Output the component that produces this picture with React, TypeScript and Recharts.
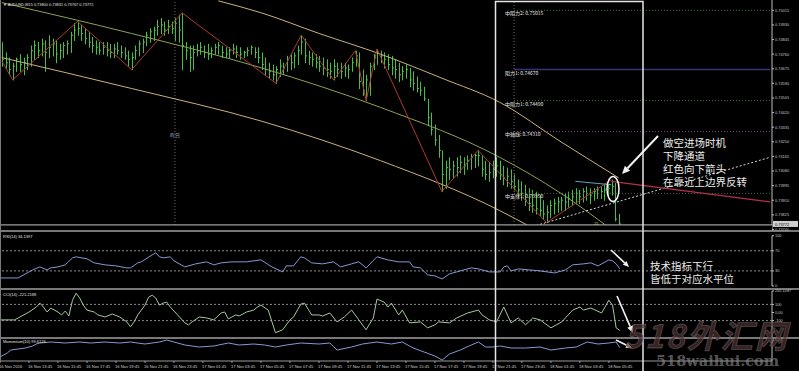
import React from 'react';
import { ComposedChart, Bar, Line, XAxis, YAxis, ReferenceLine } from 'recharts';

// AUDUSD M15 bars, 16 Nov 11:45 .. 18 Nov 06:30
const highs = [
  0.7483, 0.7477, 0.7474, 0.7471, 0.7474, 0.7476, 0.7474, 0.7476, 0.7481, 0.7484,
  0.7483, 0.7485, 0.7484, 0.7487, 0.7485, 0.7484, 0.7482, 0.7483, 0.7484, 0.7489,
  0.7494, 0.7495, 0.7493, 0.7491, 0.7489, 0.7486, 0.7484, 0.7483, 0.7483, 0.7483,
  0.7482, 0.7482, 0.7483, 0.7481, 0.7480, 0.7478, 0.7477, 0.7481, 0.7484, 0.7485,
  0.7489, 0.7491, 0.7492, 0.7496, 0.7497, 0.7495, 0.7496, 0.7495, 0.7497, 0.7499,
  0.7500, 0.7483, 0.7481, 0.7481, 0.7482, 0.7483, 0.7481, 0.7482, 0.7480, 0.7482,
  0.7483, 0.7481, 0.7480, 0.7480, 0.7482, 0.7481, 0.7480, 0.7478, 0.7480, 0.7481,
  0.7480, 0.7480, 0.7477, 0.7474, 0.7471, 0.7470, 0.7469, 0.7473, 0.7471, 0.7475,
  0.7476, 0.7477, 0.7481, 0.7487, 0.7485, 0.7478, 0.7477, 0.7476, 0.7475, 0.7474,
  0.7473, 0.7471, 0.7473, 0.7471, 0.7471, 0.7471, 0.7470, 0.7474, 0.7478, 0.7477,
  0.7467, 0.7464, 0.7471, 0.7476, 0.7479, 0.7478, 0.7477, 0.7476, 0.7475, 0.7473,
  0.7471, 0.7469, 0.7470, 0.7468, 0.7466, 0.7463, 0.7460, 0.7457, 0.7450, 0.7442,
  0.7435, 0.7429, 0.7420, 0.7414, 0.7416, 0.7414, 0.7416, 0.7417, 0.7416, 0.7417,
  0.7418, 0.7418, 0.7420, 0.7417, 0.7414, 0.7413, 0.7414, 0.7416, 0.7414, 0.7411,
  0.7410, 0.7409, 0.7406, 0.7403, 0.7402, 0.7400, 0.7398, 0.7397, 0.7396, 0.7394,
  0.7391, 0.7388, 0.7391, 0.7392, 0.7393, 0.7393, 0.7395, 0.7396, 0.7397, 0.7398,
  0.7397, 0.7398, 0.7399, 0.7398, 0.7398, 0.7399, 0.7399, 0.7400, 0.7400, 0.7403,
  0.7401, 0.73831,
];
const lows = [
  0.7469, 0.7468, 0.7464, 0.7461, 0.7466, 0.7466, 0.7464, 0.7467, 0.7469, 0.7473,
  0.7474, 0.7475, 0.7466, 0.7474, 0.7475, 0.7471, 0.7473, 0.7474, 0.7476, 0.7477,
  0.7484, 0.7487, 0.7484, 0.7482, 0.7480, 0.7477, 0.7476, 0.7476, 0.7476, 0.7475,
  0.7474, 0.7474, 0.7476, 0.7474, 0.7473, 0.7469, 0.7467, 0.7473, 0.7475, 0.7477,
  0.7481, 0.7483, 0.7484, 0.7487, 0.7488, 0.7487, 0.7488, 0.7488, 0.7484, 0.7483,
  0.7467, 0.7473, 0.7466, 0.7467, 0.7475, 0.7476, 0.7474, 0.7473, 0.7474, 0.7476,
  0.7476, 0.7474, 0.7474, 0.7474, 0.7476, 0.7474, 0.7473, 0.7474, 0.7475, 0.7476,
  0.7474, 0.7471, 0.7467, 0.7464, 0.7462, 0.7461, 0.7459, 0.7463, 0.7464, 0.7466,
  0.7467, 0.7468, 0.7470, 0.7476, 0.7471, 0.7470, 0.7469, 0.7468, 0.7466, 0.7464,
  0.7463, 0.7462, 0.7461, 0.7463, 0.7462, 0.7463, 0.7462, 0.7466, 0.7469, 0.7456,
  0.7452, 0.7449, 0.7452, 0.7467, 0.7470, 0.7471, 0.7468, 0.7467, 0.7464, 0.7462,
  0.7460, 0.7461, 0.7462, 0.7457, 0.7455, 0.7454, 0.7452, 0.7449, 0.7435, 0.7429,
  0.7423, 0.7416, 0.7396, 0.7398, 0.7403, 0.7404, 0.7405, 0.7407, 0.7406, 0.7409,
  0.7409, 0.7410, 0.7411, 0.7405, 0.7403, 0.7402, 0.7404, 0.7405, 0.7403, 0.7400,
  0.7399, 0.7398, 0.7397, 0.7393, 0.7391, 0.7388, 0.7385, 0.7384, 0.7383, 0.7382,
  0.7380, 0.7378, 0.7381, 0.7383, 0.7384, 0.7385, 0.7385, 0.7387, 0.7388, 0.7389,
  0.7389, 0.7390, 0.7391, 0.7389, 0.7391, 0.7392, 0.7392, 0.7391, 0.7393, 0.7394,
  0.7379, 0.73767,
];
const closes = [
  0.7473, 0.7471, 0.7467, 0.7469, 0.7473, 0.7470, 0.7471, 0.7474, 0.7478, 0.7481,
  0.7478, 0.7482, 0.7477, 0.7480, 0.7482, 0.7476, 0.7478, 0.7481, 0.7482, 0.7487,
  0.7490, 0.7491, 0.7488, 0.7485, 0.7483, 0.7481, 0.7480, 0.7478, 0.7480, 0.7478,
  0.7477, 0.7479, 0.7478, 0.7477, 0.7475, 0.7473, 0.7474, 0.7478, 0.7482, 0.7483,
  0.7487, 0.7489, 0.7490, 0.7492, 0.7493, 0.7490, 0.7492, 0.7491, 0.7494, 0.7490,
  0.7481, 0.7478, 0.7474, 0.7477, 0.7478, 0.7480, 0.7477, 0.7476, 0.7478, 0.7480,
  0.7481, 0.7477, 0.7476, 0.7478, 0.7479, 0.7477, 0.7476, 0.7477, 0.7478, 0.7480,
  0.7477, 0.7474, 0.7470, 0.7467, 0.7466, 0.7464, 0.7467, 0.7469, 0.7468, 0.7473,
  0.7471, 0.7475, 0.7478, 0.7483, 0.7475, 0.7474, 0.7473, 0.7471, 0.7469, 0.7468,
  0.7467, 0.7466, 0.7469, 0.7467, 0.7466, 0.7468, 0.7467, 0.7471, 0.7475, 0.7460,
  0.7455, 0.7461, 0.7469, 0.7474, 0.7477, 0.7475, 0.7473, 0.7470, 0.7468, 0.7467,
  0.7464, 0.7466, 0.7467, 0.7461, 0.7459, 0.7456, 0.7455, 0.7450, 0.7439, 0.7432,
  0.7426, 0.7420, 0.7406, 0.7410, 0.7409, 0.7411, 0.7410, 0.7413, 0.7411, 0.7414,
  0.7416, 0.7417, 0.7417, 0.7409, 0.7406, 0.7407, 0.7409, 0.7411, 0.7406, 0.7404,
  0.7405, 0.7402, 0.7399, 0.7397, 0.7395, 0.7391, 0.7389, 0.7388, 0.7386, 0.7385,
  0.7383, 0.7384, 0.7388, 0.7389, 0.7390, 0.7391, 0.7390, 0.7392, 0.7393, 0.7395,
  0.7393, 0.7396, 0.7395, 0.7394, 0.7396, 0.7397, 0.7396, 0.7397, 0.7398, 0.7399,
  0.7380, 0.73772,
];

const timeLabels = [
  '16 Nov 2016', '16 Nov 13:45', '16 Nov 15:45', '16 Nov 17:45', '16 Nov 19:45', '16 Nov 21:45',
  '16 Nov 23:45', '17 Nov 01:45', '17 Nov 03:45', '17 Nov 05:45', '17 Nov 07:45', '17 Nov 09:45',
  '17 Nov 11:45', '17 Nov 13:45', '17 Nov 15:45', '17 Nov 17:45', '17 Nov 19:45', '17 Nov 21:45',
  '17 Nov 23:45', '18 Nov 01:45', '18 Nov 03:45', '18 Nov 05:45',
];
const priceTicks = [
  0.75015, 0.7493, 0.74845, 0.7476, 0.74675, 0.7459, 0.74505, 0.7442,
  0.74335, 0.7425, 0.74165, 0.7408, 0.73995, 0.7391, 0.73825, 0.7374,
];

// [bar index, price]
const zigzag = [
  [0, 0.7472], [3, 0.7461], [21, 0.7495], [36, 0.7467], [50, 0.75], [76, 0.7459], [83, 0.7487],
  [92, 0.7461], [98, 0.7478], [101, 0.7449], [104, 0.7479], [122, 0.7396], [132, 0.742],
  [151, 0.7378], [169, 0.7403],
];
const chanUpper = [[60, 0.7507], [72, 0.75], [88, 0.7488], [105, 0.7476], [122, 0.7462], [138, 0.7448], [155, 0.7425], [171, 0.7404]];
const chanMid = [[0, 0.7506], [36, 0.7488], [72, 0.7468], [105, 0.7445], [138, 0.7416], [155, 0.7395], [169, 0.7374]];
const chanLower = [[0, 0.7474], [36, 0.7456], [72, 0.7437], [105, 0.7414], [138, 0.7385], [147, 0.7375]];
const pinkLine = [[169, 0.7402], [213, 0.739]];
const tealLine = [[159, 0.7402], [169, 0.74]];
const dottedTrend = [[146, 0.7375], [213, 0.7416]];

const levels = [
  { name: '中阻力2', value: 0.75015, color: '#2f7a2f', dash: '1 2' },
  { name: '阻力1', value: 0.7467, color: '#34347a', dash: '' },
  { name: '中阻力1', value: 0.7449, color: '#2f7a2f', dash: '1 2' },
  { name: '中轴线', value: 0.7431, color: '#8a3a8a', dash: '1 2' },
  { name: '中支撑1', value: 0.7395, color: '#4a6a4a', dash: '1 2' },
];

const rsiPts = [
  [0, 16], [5, 16], [9, 32], [11, 38], [13, 32], [14, 36], [16, 38], [18, 42], [20, 56], [21, 58],
  [24, 54], [26, 46], [29, 42], [32, 40], [35, 36], [36, 36], [38, 46], [39, 48], [42, 62], [43, 66],
  [44, 58], [45, 56], [47, 58], [48, 50], [50, 42], [51, 38], [54, 44], [57, 48], [59, 42], [61, 46],
  [64, 48], [68, 48], [72, 52], [75, 38], [78, 28], [79, 40], [81, 40], [83, 58], [84, 56], [86, 46],
  [89, 44], [92, 48], [94, 38], [97, 44], [99, 48], [101, 36], [104, 58], [107, 52], [110, 48], [113, 48],
  [114, 38], [116, 36], [118, 22], [120, 20], [122, 14], [124, 24], [126, 28], [130, 36], [132, 34], [135, 28],
  [138, 28], [139, 38], [140, 40], [141, 30], [143, 34], [146, 32], [149, 30], [151, 28], [153, 26], [156, 32],
  [158, 42], [161, 44], [163, 46], [165, 40], [168, 52], [169, 50], [170, 44], [171, 34.1397],
];
const cciPts = [
  [0, -91], [4, -91], [5, -67], [8, 6], [10, 67], [11, 116], [12, 67], [13, 6], [14, 55], [16, 6],
  [17, -30], [18, 18], [19, -43], [20, 152], [21, 238], [22, 177], [23, 91], [24, 30], [26, 6], [27, -30],
  [29, -55], [31, -18], [33, -55], [35, -116], [36, -177], [37, -116], [38, -30], [40, 91], [41, 189], [42, 213],
  [43, 177], [44, 91], [45, 116], [46, 128], [47, 67], [49, -30], [51, -128], [52, -152], [53, -116], [55, -55],
  [57, -67], [59, -91], [61, -6], [62, 6], [63, -79], [65, -30], [66, -43], [68, 6], [70, 30], [71, 67],
  [72, 91], [74, 30], [76, -250], [78, -213], [80, -91], [81, -55], [83, 104], [84, 116], [86, -30], [88, -30],
  [89, -43], [91, -6], [93, -116], [95, -55], [97, 30], [99, -91], [101, -213], [103, -67], [104, 165], [106, 128],
  [107, 67], [108, 116], [110, -30], [111, 30], [113, -128], [116, -116], [118, -189], [120, -152], [121, -116], [124, -128],
  [126, -67], [129, -6], [132, 30], [133, -30], [135, -91], [137, -116], [139, 67], [141, -128], [143, -67], [145, -152],
  [147, -67], [149, -91], [152, -189], [155, -116], [158, 30], [160, 67], [161, 30], [163, 55], [166, -6], [168, 152],
  [169, 91], [170, -189], [171, -221.2188],
];
const momPts = [
  [0, 99.15], [2, 99.35], [3, 99.5], [5, 99.55], [7, 99.6], [9, 99.7], [10, 99.8], [11, 99.85], [14, 99.9], [18, 99.85],
  [22, 99.9], [25, 99.85], [29, 99.9], [33, 99.85], [36, 99.9], [40, 99.8], [44, 99.9], [46, 100.0], [48, 99.9], [51, 99.75],
  [55, 99.65], [59, 99.7], [63, 99.85], [66, 99.75], [70, 99.8], [73, 99.75], [76, 99.65], [79, 99.75], [83, 99.85], [88, 99.8],
  [91, 99.85], [93, 99.5], [97, 99.65], [100, 99.8], [104, 99.9], [108, 99.8], [111, 99.9], [114, 99.6], [117, 99.4], [120, 99.2],
  [122, 99.0], [124, 99.3], [127, 99.5], [130, 99.75], [132, 99.9], [134, 99.65], [136, 99.65], [138, 99.7], [141, 99.6], [145, 99.6],
  [149, 99.65], [152, 99.5], [156, 99.6], [159, 99.65], [162, 99.9], [165, 99.8], [168, 99.85], [170, 99.9], [171, 99.6126],
];

const N = 214;
const rows: any[] = Array.from({ length: N }, (_, i) => ({
  i,
  hi: highs[i],
  lo: lows[i],
  c: closes[i],
  range: i < highs.length ? [lows[i], highs[i]] : undefined,
}));
const put = (key: string, pts: number[][]) => pts.forEach(([i, v]) => { rows[i][key] = v; });
put('zz', zigzag);
put('up', chanUpper);
put('mid', chanMid);
put('low', chanLower);
put('pink', pinkLine);
put('teal', tealLine);
put('dtr', dottedTrend);
put('rsi', rsiPts);
put('cci', cciPts);
put('mom', momPts);

const timeTicks = timeLabels.map((_, k) => k * 8);

const SMALL = 'Liberation Sans, Arial, sans-serif';
const CJK = 'Noto Sans CJK SC, sans-serif';
const AXIS = '#bdbdbd';
const W = 799;

const BarShape = (p: any) => {
  const { x, y, width, height, payload } = p;
  if (payload == null || payload.hi == null || !isFinite(y)) return null;
  const cx = Math.round(x + width / 2) + 0.5;
  const top = Math.min(y, y + height);
  const bot = Math.max(y, y + height);
  const span = payload.hi - payload.lo || 1;
  const cy = top + ((payload.hi - payload.c) / span) * (bot - top);
  return (
    <g>
      <line x1={cx} x2={cx} y1={top} y2={bot + 0.5} stroke="#45c045" strokeWidth={1} />
      <line x1={cx} x2={cx + 1.5} y1={cy} y2={cy} stroke="#45c045" strokeWidth={1} />
    </g>
  );
};

const LevelLabel = (p: any) => {
  const { viewBox, text } = p;
  if (!viewBox) return null;
  return (
    <text x={viewBox.x - 9} y={viewBox.y + 5} fill="#e6e6e6" fontSize={5} fontFamily={CJK}>{text}</text>
  );
};

const PriceBox = (p: any) => {
  const { viewBox } = p;
  if (!viewBox) return null;
  const x = viewBox.x + viewBox.width + 1;
  return (
    <g>
      <rect x={x} y={viewBox.y - 3} width={25} height={6} fill="#cfcfcf" />
      <text x={x + 2} y={viewBox.y + 1.6} fill="#000" fontSize={3.9} fontFamily={SMALL}>0.73772</text>
    </g>
  );
};

const TimeTick = (p: any) => {
  const { x, y, payload } = p;
  const label = timeLabels[payload.value / 8];
  if (!label) return null;
  return (
    <g>
      <line x1={x} x2={x} y1={y - 2} y2={y} stroke={AXIS} strokeWidth={0.8} />
      <text x={x - 1} y={y + 4.5} fill="#cfcfcf" fontSize={4.1} fontFamily={SMALL}>{label}</text>
    </g>
  );
};

const yTick = { fill: '#c8c8c8', fontSize: 3.9, fontFamily: SMALL };

function Arrow({ x1, y1, x2, y2, w = 2, head = 7 }: any) {
  const a = Math.atan2(y2 - y1, x2 - x1);
  const bx = x2 - head * Math.cos(a);
  const by = y2 - head * Math.sin(a);
  const hw = head * 0.45;
  const pts = `${x2},${y2} ${bx + hw * Math.sin(a)},${by - hw * Math.cos(a)} ${bx - hw * Math.sin(a)},${by + hw * Math.cos(a)}`;
  return (
    <g>
      <line x1={x1} y1={y1} x2={bx} y2={by} stroke="#f2f2f2" strokeWidth={w} />
      <polygon points={pts} fill="#f2f2f2" />
    </g>
  );
}

const lineProps = { dot: false, activeDot: false, connectNulls: true, isAnimationActive: false } as const;

export default function App() {
  return (
    <div style={{ position: 'relative', width: W, height: 371, background: '#000', overflow: 'hidden' }}>
      <style>{'body{margin:0;background:#000}'}</style>

      {/* main price window */}
      <div style={{ position: 'absolute', left: 0, top: 0 }}>
        <ComposedChart width={W} height={231} data={rows} margin={{ top: 0, right: 0, bottom: 0, left: 0 }} barCategoryGap={0}>
          <XAxis dataKey="i" hide />
          <YAxis orientation="right" width={27} domain={[0.73731, 0.75075]} ticks={priceTicks} allowDataOverflow
            tick={yTick} tickFormatter={(v: number) => v.toFixed(5)} tickSize={2} tickMargin={1}
            axisLine={{ stroke: AXIS }} tickLine={{ stroke: AXIS }} interval={0} />
          <ReferenceLine x={48} stroke="#6e6e6e" strokeDasharray="1 2" />
          <ReferenceLine x={142} stroke="#6e6e6e" strokeDasharray="1 2" />
          {levels.map(l => (
            <ReferenceLine key={l.name} segment={[{ x: 142, y: l.value }, { x: 213, y: l.value }]}
              stroke={l.color} strokeWidth={l.dash ? 1 : 1.5} strokeDasharray={l.dash || undefined}
              label={<LevelLabel text={`${l.name}: ${l.value.toFixed(5)}`} />} />
          ))}
          <ReferenceLine y={0.73772} stroke="none" label={<PriceBox />} />
          <Line dataKey="up" type="monotone" stroke="#c9b27a" strokeWidth={1} {...lineProps} />
          <Line dataKey="mid" type="monotone" stroke="#8ea24e" strokeWidth={1} {...lineProps} />
          <Line dataKey="low" type="monotone" stroke="#c9b27a" strokeWidth={1} {...lineProps} />
          <Line dataKey="dtr" type="linear" stroke="#d8d8d8" strokeWidth={1} strokeDasharray="2 2" {...lineProps} />
          <Bar dataKey="range" barSize={2} shape={BarShape} activeBar={false} isAnimationActive={false} />
          <Line dataKey="zz" type="linear" stroke="#ad3a2c" strokeWidth={1} {...lineProps} />
          <Line dataKey="pink" type="linear" stroke="#b8304e" strokeWidth={1.2} {...lineProps} />
          <Line dataKey="teal" type="linear" stroke="#5fa4c4" strokeWidth={1} {...lineProps} />
        </ComposedChart>
      </div>

      {/* RSI */}
      <div style={{ position: 'absolute', left: 0, top: 231 }}>
        <ComposedChart width={W} height={58} data={rows} margin={{ top: 4.7, right: 0, bottom: 3, left: 0 }}>
          <XAxis dataKey="i" hide />
          <YAxis orientation="right" width={27} domain={[0, 100]} ticks={[0, 30, 70, 100]} allowDataOverflow
            tick={yTick} tickSize={2} tickMargin={1} axisLine={{ stroke: AXIS }} tickLine={{ stroke: AXIS }} interval={0} />
          <ReferenceLine y={70} stroke="#8a8a8a" strokeDasharray="2 2" />
          <ReferenceLine y={30} stroke="#8a8a8a" strokeDasharray="2 2" />
          <Line dataKey="rsi" type="linear" stroke="#8797d4" strokeWidth={1} {...lineProps} />
        </ComposedChart>
      </div>

      {/* CCI */}
      <div style={{ position: 'absolute', left: 0, top: 289 }}>
        <ComposedChart width={W} height={49} data={rows} margin={{ top: 2, right: 0, bottom: 1, left: 0 }}>
          <XAxis dataKey="i" hide />
          <YAxis orientation="right" width={27} domain={[-302, 265.1087]} ticks={[-100, 0, 100, 265.1087]} allowDataOverflow
            tick={yTick} tickFormatter={(v: number) => (v === 0 ? '0.00' : v === 265.1087 ? '265.1087' : String(v))}
            tickSize={2} tickMargin={1} axisLine={{ stroke: AXIS }} tickLine={{ stroke: AXIS }} interval={0} />
          <ReferenceLine y={100} stroke="#8a8a8a" strokeDasharray="2 2" />
          <ReferenceLine y={-100} stroke="#8a8a8a" strokeDasharray="2 2" />
          <Line dataKey="cci" type="linear" stroke="#a3c7a3" strokeWidth={1} {...lineProps} />
        </ComposedChart>
      </div>

      {/* Momentum + time axis */}
      <div style={{ position: 'absolute', left: 0, top: 338 }}>
        <ComposedChart width={W} height={33} data={rows} margin={{ top: 1, right: 0, bottom: 0, left: 0 }}>
          <XAxis dataKey="i" height={10} ticks={timeTicks} interval={0} tick={<TimeTick />} tickLine={false}
            tickSize={2} tickMargin={0} axisLine={{ stroke: '#9a9a9a' }} />
          <YAxis orientation="right" width={27} domain={[98.95, 100.05]} ticks={[100]} allowDataOverflow
            tick={yTick} tickSize={2} tickMargin={1} axisLine={{ stroke: AXIS }} tickLine={{ stroke: AXIS }} interval={0} />
          <Line dataKey="mom" type="linear" stroke="#8797d4" strokeWidth={1} {...lineProps} />
        </ComposedChart>
      </div>

      {/* window frame, captions and hand-drawn annotations */}
      <svg width={W} height={371} style={{ position: 'absolute', left: 0, top: 0, pointerEvents: 'none' }}>
        <rect x={0} y={225} width={772} height={6} fill="#000" />
        <line x1={0} x2={773} y1={224.8} y2={224.8} stroke="#9c9c9c" strokeWidth={1.2} />
        <line x1={0} x2={799} y1={231} y2={231} stroke="#a0a0a0" strokeWidth={1.6} />
        <line x1={0} x2={799} y1={289} y2={289} stroke="#a0a0a0" strokeWidth={1.6} />
        <line x1={0} x2={799} y1={338} y2={338} stroke="#a0a0a0" strokeWidth={1.6} />
        <line x1={0.5} x2={0.5} y1={0} y2={361} stroke="#7a7a7a" strokeWidth={1} />

        <text x={3} y={5.5} fill="#e0e0e0" fontSize={3.9} fontFamily={SMALL}>▼ AUDUSD,M15  0.73800 0.73831 0.73767 0.73772</text>
        <text x={3} y={237.5} fill="#e0e0e0" fontSize={4} fontFamily={SMALL}>RSI(14) 34.1397</text>
        <text x={3} y={295.5} fill="#e0e0e0" fontSize={4} fontFamily={SMALL}>CCI(14) -221.2188</text>
        <text x={3} y={343} fill="#e0e0e0" fontSize={4} fontFamily={SMALL}>Momentum(10) 99.6126</text>
        <text x={170} y={137} fill="#8fa7b7" fontSize={5} fontFamily={CJK}>昨日</text>
        <text x={594} y={225} fill="#b6d84a" fontSize={4} fontFamily={SMALL}>25</text>

        <rect x={495.5} y={1.5} width={147.5} height={372} fill="none" stroke="#e6e6e6" strokeWidth={1.5} />

        <ellipse cx={613} cy={189} rx={6} ry={12.5} fill="none" stroke="#f4f4f4" strokeWidth={1.5} />
        <Arrow x1={658} y1={136} x2={622} y2={174} w={2} head={8} />
        <Arrow x1={611} y1={250} x2={629} y2={267} w={1.6} head={6} />
        <Arrow x1={617} y1={296} x2={633} y2={333} w={1.6} head={7} />
        <Arrow x1={616} y1={340} x2={632} y2={348} w={1.6} head={6} />

        <g fill="#ededed" fontSize={10.5} fontFamily={CJK}>
          <text x={663} y={147}>做空进场时机</text>
          <text x={663} y={160}>下降通道</text>
          <text x={663} y={173}>红色向下箭头</text>
          <text x={663} y={186}>在靠近上边界反转</text>
          <text x={650} y={270}>技术指标下行</text>
          <text x={650} y={283}>皆低于对应水平位</text>
        </g>

        <text x={624} y={348} fontSize={32} fontStyle="italic" fontWeight={700} fontFamily={CJK} letterSpacing={2}
          fill="rgba(80,52,52,0.7)" stroke="rgba(160,150,150,0.4)" strokeWidth={0.8}>518外汇网</text>
        <text x={656} y={366} fontSize={14.5} fontWeight={700} fontFamily="DejaVu Serif, serif"
          fill="rgba(135,135,135,0.65)">518waihui.com</text>
      </svg>
    </div>
  );
}
